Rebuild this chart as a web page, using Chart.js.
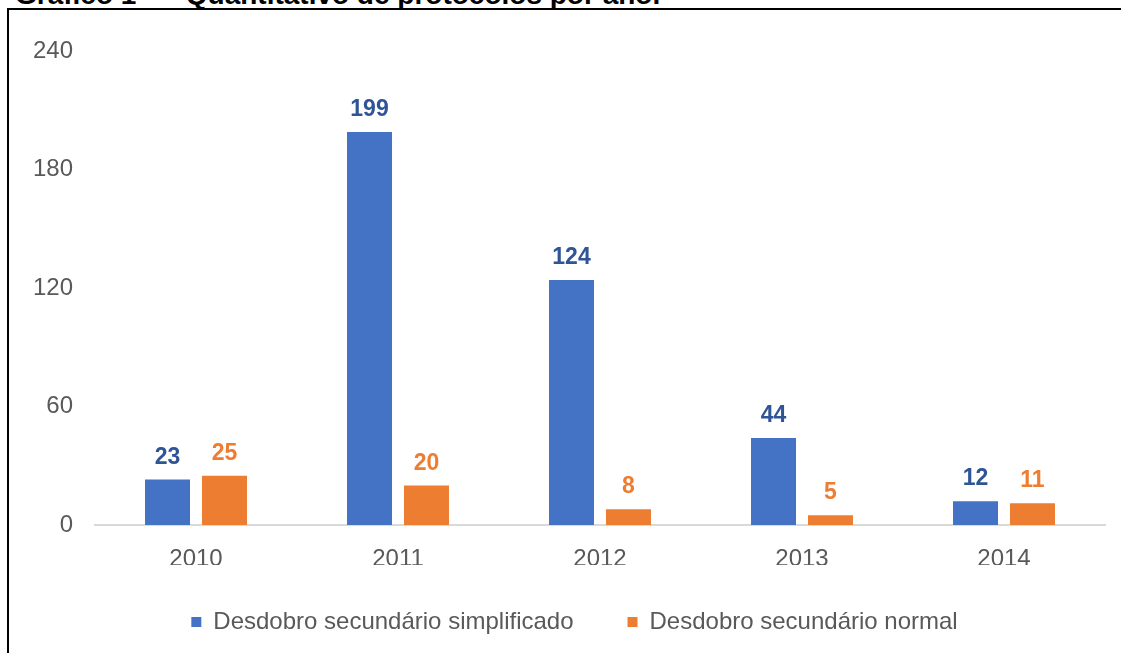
<!DOCTYPE html>
<html lang="pt-BR">
<head>
<meta charset="utf-8">
<script src="https://cdn.jsdelivr.net/npm/chart.js@4.4.1/dist/chart.umd.min.js"></script>
<style>
  body { margin: 0; background: #fff; overflow: hidden; width: 1121px; height: 653px; position: relative; }
  #titulo {
    position: absolute; left: 15px; top: -21px; line-height: 28px;
    font: bold 28px "Liberation Sans", Arial, sans-serif; color: #000; white-space: nowrap;
  }
  #titulo span { margin-left: 26px; }
  #moldura {
    position: absolute; left: 7px; top: 8px; width: 1200px; height: 700px;
    border: 2px solid #000;
  }
  #grafico { position: absolute; left: 0; top: 0; }
</style>
</head>
<body>
<div id="titulo">Gráfico 1<span>– Quantitativo de protocolos por ano.</span></div>
<div id="moldura"></div>
<canvas id="grafico" width="1121" height="653"></canvas>
<script>
const anos = ['2010', '2011', '2012', '2013', '2014'];
const simplificado = [23, 199, 124, 44, 12];
const normal = [25, 20, 8, 5, 11];
const nomesSeries = ['Desdobro secundário simplificado', 'Desdobro secundário normal'];
const ticksY = [0, 60, 120, 180, 240];

const fonte = '"Liberation Sans", Arial, sans-serif';
const coresBarras = ['#4472C4', '#ED7D31'];
const coresRotulos = ['#2F5597', '#ED7D31'];

// escreve o valor em cima de cada barra
const rotulosValores = {
    id: 'rotulosValores',
    afterDatasetsDraw(chart) {
        const ctx = chart.ctx;
        ctx.save();
        ctx.font = 'bold 23px ' + fonte;
        ctx.textAlign = 'center';
        ctx.textBaseline = 'alphabetic';
        chart.data.datasets.forEach((ds, i) => {
            ctx.fillStyle = coresRotulos[i];
            chart.getDatasetMeta(i).data.forEach((barra, j) => {
                ctx.fillText(ds.data[j], barra.x, barra.y - 16);
            });
        });
        ctx.restore();
    }
};

// empurra a legenda um pouco (fica centrada na moldura, nao no canvas)
const moverLegenda = {
    id: 'moverLegenda',
    afterLayout(chart) {
        const leg = chart.legend;
        if (!leg) return;
        leg.left += 22;
        leg.right += 22;
        leg.top -= 9;
        leg.bottom -= 9;
    }
};

const ctx = document.getElementById('grafico').getContext('2d');
const grafico = new Chart(ctx, {
    type: 'bar',
    data: {
        labels: anos,
        datasets: [
            { label: nomesSeries[0], data: simplificado, backgroundColor: coresBarras[0] },
            { label: nomesSeries[1], data: normal, backgroundColor: coresBarras[1] }
        ]
    },
    options: {
        responsive: false,
        animation: false,
        categoryPercentage: 0.564,
        barPercentage: 0.79,
        layout: { padding: { left: 0, right: 16, top: 51, bottom: 0 } },
        scales: {
            y: {
                min: 0,
                max: 240,
                afterBuildTicks: (escala) => { escala.ticks = ticksY.map(v => ({ value: v })); },
                afterFit: (escala) => { escala.width = 95; },
                grid: { display: false, drawTicks: false },
                border: { display: false },
                ticks: { color: '#595959', font: { family: fonte, size: 24 }, padding: 22 }
            },
            x: {
                afterFit: (escala) => { escala.height = 40; },
                grid: { display: false, drawTicks: false },
                border: { display: true, color: '#D9D9D9', width: 2 },
                ticks: { color: '#595959', font: { family: fonte, size: 24 }, padding: 20 }
            }
        },
        plugins: {
            legend: {
                position: 'bottom',
                labels: {
                    boxWidth: 10,
                    boxHeight: 10,
                    padding: 54,
                    color: '#595959',
                    font: { family: fonte, size: 24 }
                }
            },
            tooltip: { enabled: false }
        }
    },
    plugins: [rotulosValores, moverLegenda]
});
</script>
</body>
</html>
